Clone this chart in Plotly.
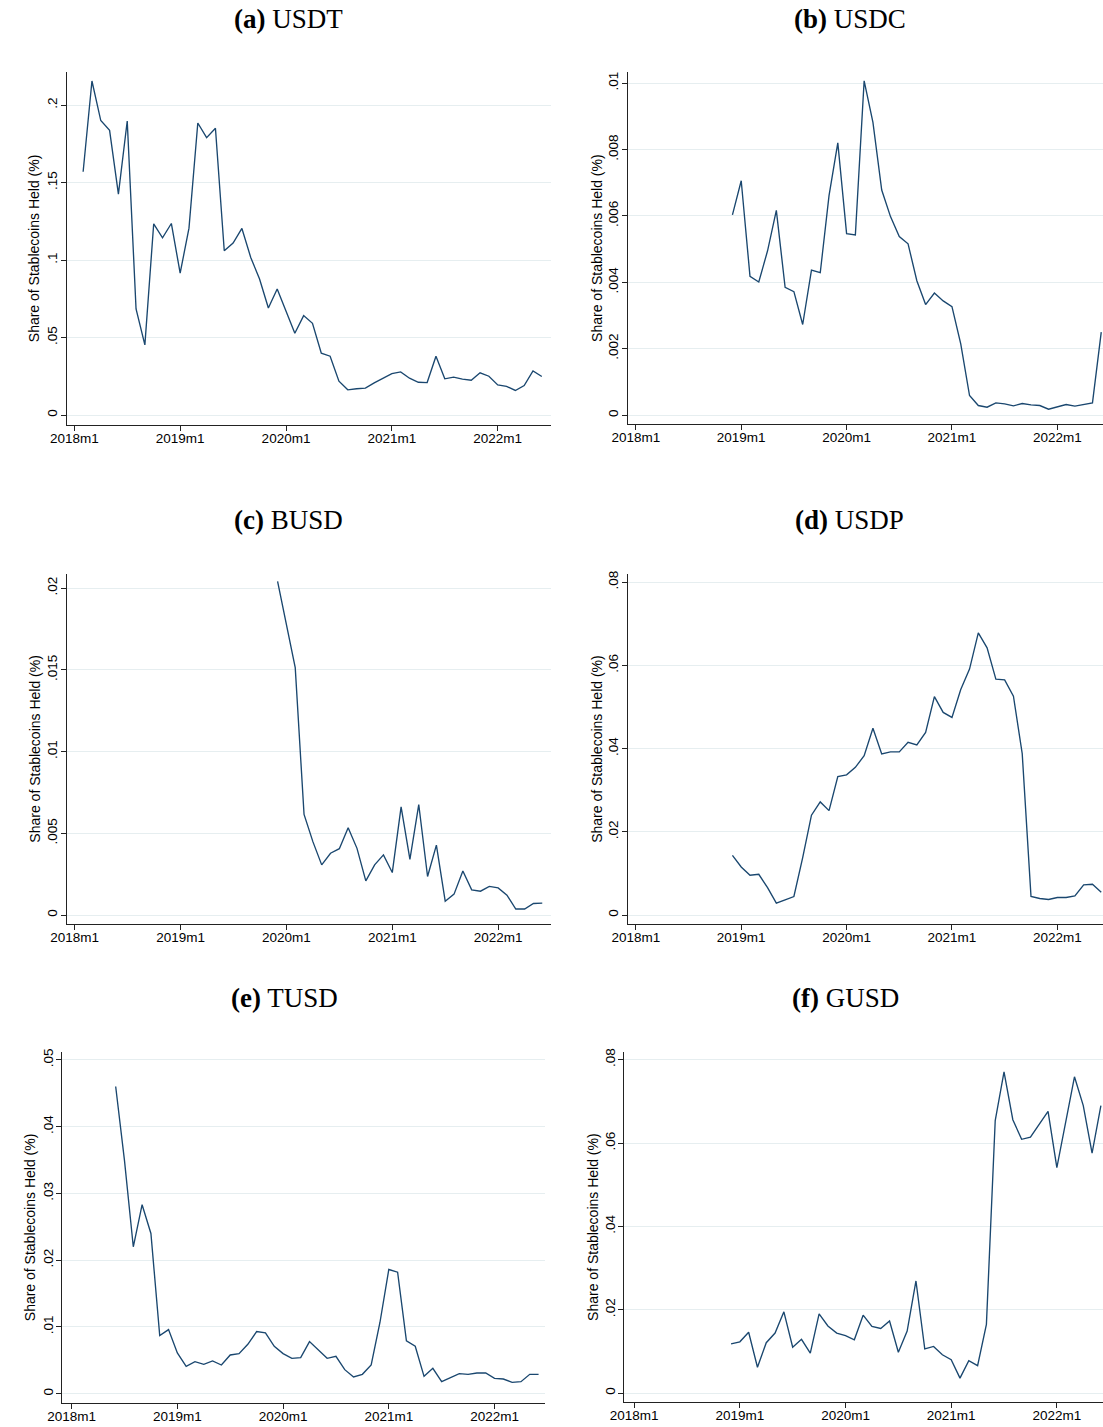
import plotly.graph_objects as go

# ---------------- data ----------------
x_tick_labels = ["2018m1", "2019m1", "2020m1", "2021m1", "2022m1"]

usdt_start = "2018m2"
usdt = [0.157, 0.2155, 0.190, 0.1837, 0.1425, 0.1897, 0.0685, 0.0453, 0.1234, 0.1144,
        0.1236, 0.0916, 0.1206, 0.1884, 0.179, 0.185, 0.106, 0.111, 0.1204, 0.1017,
        0.0878, 0.0691, 0.0813, 0.0674, 0.0528, 0.0642, 0.0592, 0.0399, 0.038, 0.0219,
        0.0163, 0.017, 0.0174, 0.0208, 0.0238, 0.0268, 0.0279, 0.0238, 0.0212, 0.021,
        0.038, 0.0234, 0.0245, 0.0232, 0.0225, 0.0273, 0.0251, 0.0195, 0.0185, 0.0159,
        0.0191, 0.0285, 0.0249]

usdc_start = "2018m12"
usdc = [0.00603, 0.00706, 0.00418, 0.00401, 0.00495, 0.00617, 0.00385, 0.00372, 0.00273,
        0.00437, 0.00429, 0.00661, 0.0082, 0.00547, 0.00543, 0.01007, 0.00882, 0.00678,
        0.00598, 0.00538, 0.00516, 0.00405, 0.00333, 0.00368, 0.00344, 0.00327, 0.00215,
        0.00059, 0.00029, 0.00024, 0.00037, 0.00034, 0.00028, 0.00035, 0.00031, 0.00029,
        0.00018, 0.00026, 0.00032, 0.00027, 0.00032, 0.00037, 0.0025]

busd_start = "2019m12"
busd = [0.0204, 0.01773, 0.01513, 0.00615, 0.00449, 0.00307, 0.00378, 0.00406, 0.00534,
        0.00408, 0.00209, 0.00307, 0.00368, 0.0026, 0.00662, 0.00341, 0.00676, 0.00236,
        0.00428, 0.00085, 0.00128, 0.0027, 0.00154, 0.00146, 0.00175, 0.00166, 0.00122,
        0.00037, 0.00037, 0.00071, 0.00073]

usdp_start = "2018m12"
usdp = [0.01436, 0.01157, 0.00957, 0.00981, 0.00662, 0.00287, 0.00367, 0.00447, 0.0138,
        0.024, 0.0272, 0.0251, 0.0333, 0.0337, 0.0355, 0.0383, 0.0449, 0.0387, 0.0392,
        0.0392, 0.0415, 0.0409, 0.0439, 0.0525, 0.0487, 0.0475, 0.0542, 0.0591, 0.0678,
        0.0642, 0.0567, 0.0565, 0.0526, 0.0388, 0.00450, 0.00399, 0.00375, 0.00423,
        0.00423, 0.00463, 0.00726, 0.00742, 0.0055]

tusd_start = "2018m6"
tusd = [0.046, 0.0349, 0.022, 0.0283, 0.024, 0.0087, 0.0096, 0.0061, 0.0041, 0.0048,
        0.0044, 0.0049, 0.0043, 0.0058, 0.006, 0.0074, 0.0093, 0.0091, 0.0071, 0.006,
        0.0053, 0.0054, 0.0078, 0.0065, 0.0053, 0.0056, 0.0036, 0.0025, 0.0029, 0.0043,
        0.0107, 0.0186, 0.0182, 0.0079, 0.0071, 0.0026, 0.0038, 0.0018, 0.0024, 0.003,
        0.0029, 0.0031, 0.0031, 0.0023, 0.0022, 0.0017, 0.0018, 0.0029, 0.0029]

gusd_start = "2018m12"
gusd = [0.0118, 0.0123, 0.0146, 0.0062, 0.0121, 0.0144, 0.0195, 0.011, 0.0129, 0.0096,
        0.019, 0.0161, 0.0144, 0.0138, 0.0128, 0.0187, 0.016, 0.0155, 0.0173, 0.0098,
        0.0149, 0.0269, 0.0106, 0.0112, 0.0092, 0.008, 0.0036, 0.0078, 0.0066, 0.0165,
        0.0654, 0.0771, 0.0656, 0.0609, 0.0614, 0.0644, 0.0676, 0.0541, 0.0646, 0.0759,
        0.069, 0.0576, 0.069]

titles = ["<b>(a)</b> USDT", "<b>(b)</b> USDC", "<b>(c)</b> BUSD",
          "<b>(d)</b> USDP", "<b>(e)</b> TUSD", "<b>(f)</b> GUSD"]
y_title = "Share of Stablecoins Held (%)"

yticks = [
    ([0, 0.05, 0.1, 0.15, 0.2], ["0", ".05", ".1", ".15", ".2"]),
    ([0, 0.002, 0.004, 0.006, 0.008, 0.01], ["0", ".002", ".004", ".006", ".008", ".01"]),
    ([0, 0.005, 0.01, 0.015, 0.02], ["0", ".005", ".01", ".015", ".02"]),
    ([0, 0.02, 0.04, 0.06, 0.08], ["0", ".02", ".04", ".06", ".08"]),
    ([0, 0.01, 0.02, 0.03, 0.04, 0.05], ["0", ".01", ".02", ".03", ".04", ".05"]),
    ([0, 0.02, 0.04, 0.06, 0.08], ["0", ".02", ".04", ".06", ".08"]),
]


def month_index(lbl):
    y, m = lbl.split("m")
    return (int(y) - 2018) * 12 + int(m) - 1


series = [(usdt_start, usdt), (usdc_start, usdc), (busd_start, busd),
          (usdp_start, usdp), (tusd_start, tusd), (gusd_start, gusd)]

# ---------------- layout geometry (pixels) ----------------
W, H = 1103, 1427
# (x0, x1, ytop, ybottom, xrange, yrange, ytitle_x, title_cx, title_cy)
geom = [
    (50.5, 542, 69, 423, [-0.86, 54.0], [-0.00644, 0.2214], 18, 276, 16),
    (620.5, 1103, 69, 422, [-0.9, 53.2], [-0.00027, 0.01034], 589, 846, 16),
    (50.5, 542, 572, 923, [-0.9, 53.95], [-0.00055, 0.02087], 18, 276, 518),
    (620.5, 1103, 572, 923, [-0.9, 53.2], [-0.00215, 0.0820], 589, 846, 518),
    (46, 536, 1051, 1403, [-1.06, 53.7], [-0.0014, 0.0512], 14, 272, 997),
    (617, 1103, 1051, 1402, [-1.1, 53.24], [-0.00215, 0.0819], 585, 841, 997),
]

LINE = "#1a476f"
GRID = "#e6eef0"
AX = "#222222"
SANS = "Liberation Sans, Arial, sans-serif"
SERIF = "Liberation Serif, Times New Roman, serif"

fig = go.Figure()
layout = dict(width=W, height=H, margin=dict(l=0, r=0, t=0, b=0),
              paper_bgcolor="white", plot_bgcolor="white", showlegend=False)
annotations = []

xtickvals = [month_index(t) for t in x_tick_labels]

for i, ((start, vals), g) in enumerate(zip(series, geom)):
    x0, x1, yt, yb, xr, yr, ytx, tcx, tcy = g
    s = month_index(start)
    xs = list(range(s, s + len(vals)))
    n = "" if i == 0 else str(i + 1)
    fig.add_trace(go.Scatter(x=xs, y=vals, mode="lines",
                             line=dict(color=LINE, width=1.35),
                             xaxis="x" + n, yaxis="y" + n, hoverinfo="skip"))
    layout["xaxis" + n] = dict(
        domain=[x0 / W, min(x1 / W, 1.0)], range=xr, anchor="y" + n,
        tickvals=xtickvals, ticktext=x_tick_labels, ticks="outside", ticklen=5,
        tickcolor=AX, tickwidth=1, showline=True, linecolor=AX, linewidth=1.1,
        showgrid=False, zeroline=False, fixedrange=True, ticklabelstandoff=-4,
        tickfont=dict(family=SANS, size=13.5, color="black"))
    layout["yaxis" + n] = dict(
        domain=[1 - yb / H, 1 - yt / H], range=yr, anchor="x" + n,
        tickvals=yticks[i][0], ticktext=yticks[i][1], ticks="outside", ticklen=5,
        tickcolor=AX, tickwidth=1, showline=True, linecolor=AX, linewidth=1.1,
        showgrid=True, gridcolor=GRID, gridwidth=1, zeroline=False,
        tickangle=-90, ticklabelstandoff=-2, fixedrange=True,
        tickfont=dict(family=SANS, size=13.5, color="black"))
    annotations.append(dict(text=y_title, x=ytx / W, y=1 - (yt + yb) / 2 / H,
                            xref="paper", yref="paper", showarrow=False,
                            textangle=-90, xanchor="center", yanchor="middle",
                            font=dict(family=SANS, size=14, color="black")))
    annotations.append(dict(text=titles[i], x=tcx / W, y=1 - tcy / H,
                            xref="paper", yref="paper", showarrow=False,
                            xanchor="center", yanchor="middle",
                            font=dict(family=SERIF, size=27, color="black")))

layout["annotations"] = annotations
fig.update_layout(**layout)
fig.write_html("out.html")
